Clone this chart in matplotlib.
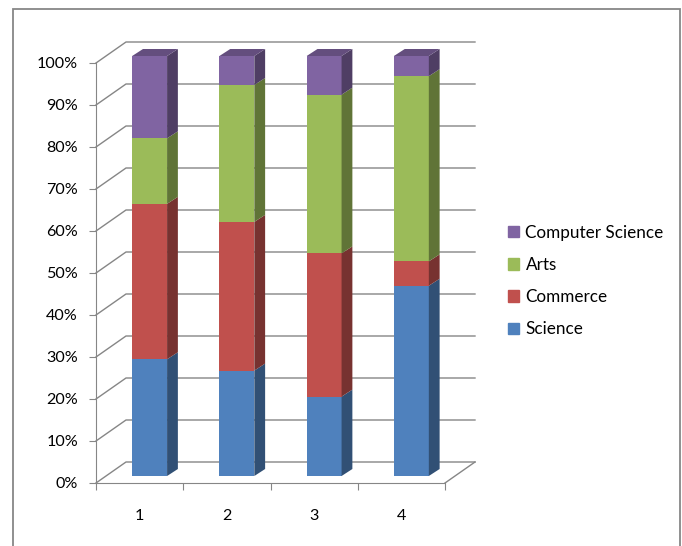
import numpy as np
import matplotlib
matplotlib.use('Agg')
import matplotlib.pyplot as plt
from matplotlib.patches import Polygon, Rectangle, Patch
from matplotlib.colors import to_rgb

categories = ['1', '2', '3', '4']
science = [27.8, 25.1, 18.9, 45.3]
commerce = [37.0, 35.4, 34.1, 5.8]
arts = [15.6, 32.6, 37.8, 44.1]
computer_science = [19.6, 6.9, 9.2, 4.8]
series_names = ['Science', 'Commerce', 'Arts', 'Computer Science']
series_colors = ['#4F81BD', '#C0504D', '#9BBB59', '#8064A2']
y_ticks = list(range(0, 101, 10))

plt.rcParams['font.family'] = ['Lato', 'DejaVu Sans']
plt.rcParams['font.size'] = 11.6
grid_col = '#868686'


def shade(c, f):
    r, g, b = to_rgb(c)
    return (r * f, g * f, b * f)


W, H = 682, 546
fig = plt.figure(figsize=(W / 100, H / 100), dpi=100)

# plot box in pixels (front plane)
x0px, x1px = 96, 445
y0px, y100px = 483, 63
unit = (x1px - x0px) / 4
pct = (y0px - y100px) / 100
wall_dx = 30 / unit
wall_dy = 21 / pct
xmax = 4.5 + wall_dx + 0.05
ymax = 100 + wall_dy + 1
ax = fig.add_axes([x0px / W, (H - y0px) / H, (xmax - 0.5) * unit / W, ymax * pct / H])
ax.set_xlim(0.5, xmax)
ax.set_ylim(0, ymax)
ax.patch.set_alpha(0)

# side wall diagonals + back wall gridlines
for t in y_ticks:
    ax.plot([0.5, 0.5 + wall_dx, 4.5 + wall_dx], [t, t + wall_dy, t + wall_dy],
            color=grid_col, lw=1, zorder=1, clip_on=False)
ax.plot([4.5, 4.5 + wall_dx], [0, wall_dy], color=grid_col, lw=1, zorder=1)

# 3d-looking stacked bars
x = np.arange(1, len(categories) + 1)
front_dx, front_dy = wall_dx / 3, wall_dy / 3
depth_dx, depth_dy = wall_dx * 0.36, wall_dy / 3
bw = 0.40
values = np.array([science, commerce, arts, computer_science], dtype=float)
values = values / values.sum(axis=0) * 100
bottom = np.zeros(len(categories))
for vals, col in zip(values, series_colors):
    ax.bar(x + front_dx, vals, bottom=bottom + front_dy, width=bw, color=col, zorder=3)
    for xi, b, v in zip(x, bottom, vals):
        xr = xi + front_dx + bw / 2
        ax.add_patch(Polygon([(xr, b + front_dy), (xr, b + v + front_dy),
                              (xr + depth_dx, b + v + front_dy + depth_dy),
                              (xr + depth_dx, b + front_dy + depth_dy)],
                             closed=True, color=shade(col, 0.62), zorder=3, lw=0))
    bottom += vals

top_col = shade(series_colors[-1], 0.78)
for xi, t in zip(x, bottom):
    xl = xi + front_dx - bw / 2
    xr = xi + front_dx + bw / 2
    ax.add_patch(Polygon([(xl, t + front_dy), (xr, t + front_dy),
                          (xr + depth_dx, t + front_dy + depth_dy),
                          (xl + depth_dx, t + front_dy + depth_dy)],
                         closed=True, color=top_col, zorder=3, lw=0))

for s in ['top', 'right']:
    ax.spines[s].set_visible(False)
ax.spines['left'].set_bounds(0, 100)
ax.spines['bottom'].set_bounds(0.5, 4.5)
for s in ['left', 'bottom']:
    ax.spines[s].set_color(grid_col)

ax.set_yticks(y_ticks)
ax.set_yticklabels([f'{t}%' for t in y_ticks])
ax.set_xticks(np.arange(0.5, 4.6, 1.0))
ax.set_xticklabels([])
ax.set_xticks(x, minor=True)
ax.set_xticklabels(categories, minor=True)
ax.tick_params(axis='y', length=5, color=grid_col, pad=8)
ax.tick_params(axis='x', which='major', length=5, color=grid_col)
ax.tick_params(axis='x', which='minor', length=0, pad=19)

handles = [Patch(color=c) for c in series_colors[::-1]]
fig.legend(handles, series_names[::-1], loc='center left',
           bbox_to_anchor=(493 / W, 1 - 281 / H), frameon=False,
           handlelength=0.65, handleheight=0.65, handletextpad=0.35,
           labelspacing=0.95, fontsize=12.3)

fig.add_artist(Rectangle((13 / W, -0.05), (680 - 13) / W, (H - 9) / H + 0.05,
                         transform=fig.transFigure, fill=False,
                         edgecolor='#878787', lw=1.3))

fig.savefig('out.png', dpi=100)
